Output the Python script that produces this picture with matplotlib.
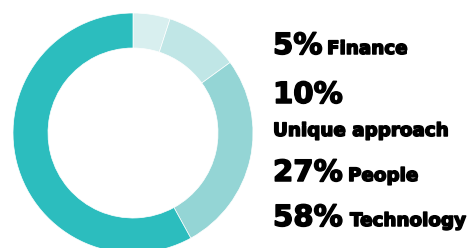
import matplotlib
matplotlib.use("Agg")
import matplotlib.pyplot as plt
from matplotlib import patheffects

# slice data, clockwise from the top
categories = ["Finance", "Unique approach", "People", "Technology"]
shares = [5, 10, 27, 58]
colours = ["#d8efef", "#c0e6e6", "#94d5d5", "#2cbdbe"]

W, H = 470, 248
fig = plt.figure(figsize=(W / 100, H / 100), dpi=100)

# donut: centre (133, 133) px from top-left, outer radius 120 px
cx, cy, r = 133, 133, 120
ax = fig.add_axes([(cx - r) / W, (H - cy - r) / H, 2 * r / W, 2 * r / H])
ax.pie(
    shares,
    colors=colours,
    startangle=90,
    counterclock=False,
    radius=1,
    wedgeprops=dict(width=35 / 120, edgecolor="white", linewidth=0.5),
)
ax.set_xlim(-1, 1)
ax.set_ylim(-1, 1)
ax.set_aspect("equal")
ax.axis("off")

style = dict(
    family=["DejaVu Sans"],
    fontweight="bold",
    va="baseline",
    ha="left",
    color="black",
    path_effects=[patheffects.withStroke(linewidth=1.1, foreground="black")],
)
big, small = 21, 13.2


def px(x, y):
    return x / W, (H - y) / H


# (pct x, baseline y, name x, name baseline y) in pixels from top-left
layout = [
    (273, 54, 327, 54),
    (273, 103, 273, 136),
    (273, 181, 348, 181),
    (273, 226, 350, 226),
]

for pct, name, (x, y, nx, ny) in zip(shares, categories, layout):
    fig.text(*px(x, y), f"{pct}%", fontsize=big, **style)
    fig.text(*px(nx, ny), name, fontsize=small, **style)

fig.savefig("out.png", dpi=100)
